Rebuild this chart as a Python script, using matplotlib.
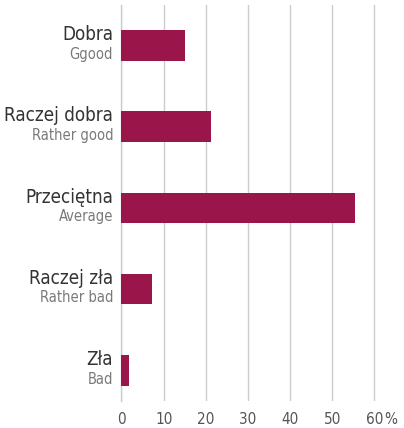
import matplotlib
matplotlib.use('Agg')
import matplotlib.pyplot as plt

# labels (Polish / English) and shares in %
labels_pl = ['Dobra', 'Raczej dobra', 'Przeciętna', 'Raczej zła', 'Zła']
labels_en = ['Ggood', 'Rather good', 'Average', 'Rather bad', 'Bad']
values = [15.0, 21.2, 55.3, 7.2, 1.8]
xticks = [0, 10, 20, 30, 40, 50, 60]

bar_color = '#9a1549'
grid_color = '#cccccc'

plt.rcParams['font.family'] = ['DejaVu Sans']
plt.rcParams['font.stretch'] = 'condensed'

fig = plt.figure(figsize=(4.04, 4.28), dpi=100)
ax = fig.add_axes([0.3007, 0.063, 0.6294, 0.925])

ypos = list(range(len(values)))
ax.barh(ypos, values, height=0.38, color=bar_color, zorder=3)

ax.set_xlim(0, 60.3)
ax.set_ylim(4.38, -0.5)
ax.set_xticks(xticks)
ax.set_xticklabels([str(t) for t in xticks])
ax.set_yticks([])
ax.grid(axis='x', color=grid_color, linewidth=1, zorder=0)
ax.tick_params(axis='x', length=0, pad=8, labelsize=11, labelcolor='#555555')
for s in ['top', 'right', 'bottom']:
    ax.spines[s].set_visible(False)
ax.spines['left'].set_color(grid_color)
ax.spines['left'].set_linewidth(1)

# "%" after the last tick label
ax.annotate('%', xy=(60, 0), xycoords=('data', 'axes fraction'),
            xytext=(7, -8), textcoords='offset points',
            ha='left', va='top', fontsize=11, color='#555555')

# two-line category labels
for i in ypos:
    ax.annotate(labels_pl[i], xy=(0, i), xycoords=('axes fraction', 'data'),
                xytext=(-6, 1), textcoords='offset points',
                ha='right', va='bottom', fontsize=13.5, color='#333333')
    ax.annotate(labels_en[i], xy=(0, i), xycoords=('axes fraction', 'data'),
                xytext=(-6, -1), textcoords='offset points',
                ha='right', va='top', fontsize=10.5, color='#7a7a7a')

fig.savefig('out.png', dpi=100)
